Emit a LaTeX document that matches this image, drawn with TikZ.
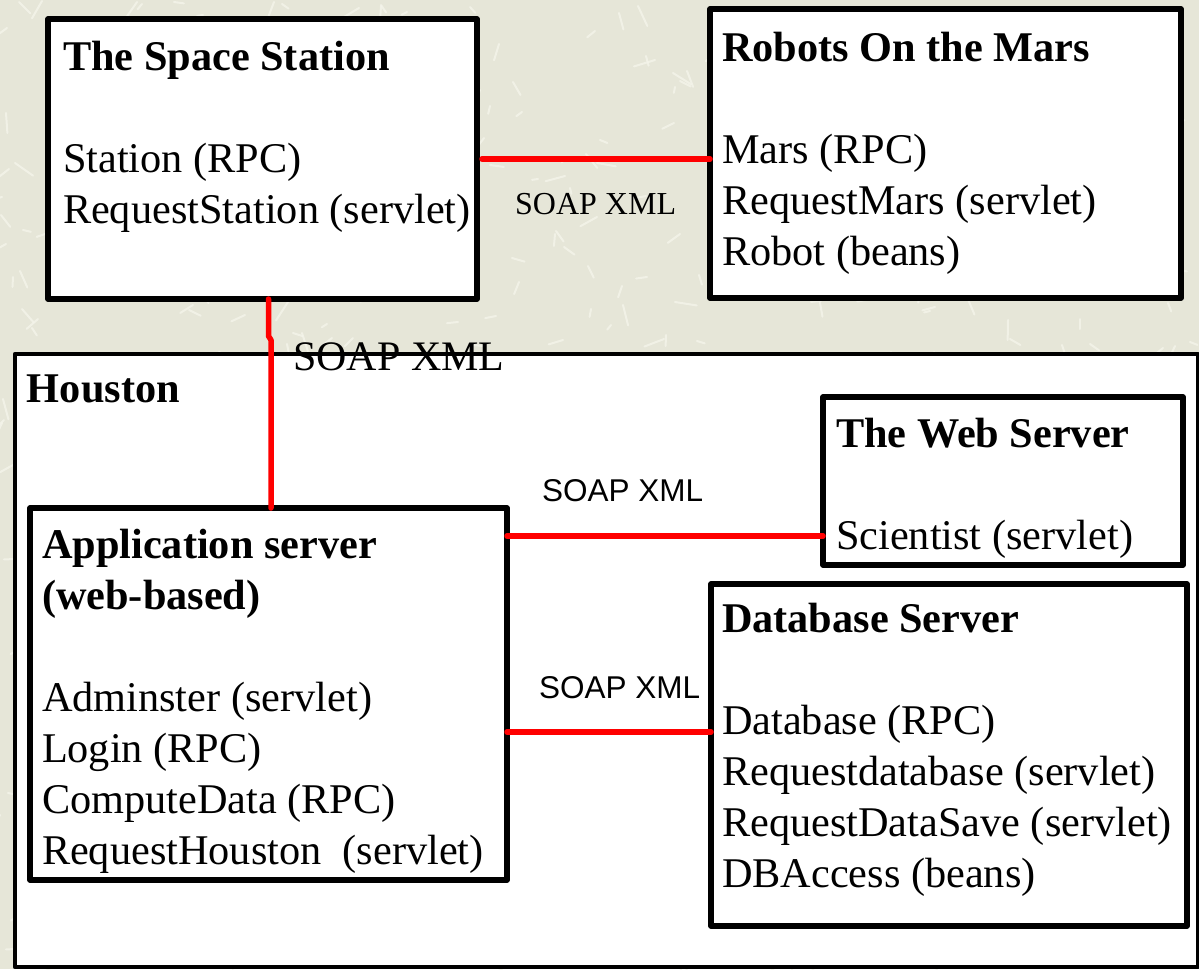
\documentclass[tikz,border=0pt]{standalone}
\usepackage{fontspec}
\setmainfont{Liberation Serif}
\newfontfamily\labelsans{Liberation Sans}
\definecolor{paper}{RGB}{230,230,216}
\definecolor{paperlight}{RGB}{244,244,234}
\definecolor{linkred}{RGB}{255,0,0}
% left-aligned block of lines whose baseline is that of the first line
\newcommand\txtlines[1]{\vtop{\halign{##\hfil\cr#1\crcr}}}

\begin{document}
\begin{tikzpicture}[x=1pt,y=-1pt,
  box/.style={draw=black, line width=5.5pt, fill=white, line join=round,
    rectangle, inner sep=0pt, outer sep=0pt, anchor=north west},
  txt/.style={anchor=base west, inner sep=0pt, outer sep=0pt,
    font=\fontsize{42.3}{51}\selectfont},
  soap/.style={draw=linkred, line width=5.5pt, line cap=round, line join=round},
  tag/.style={anchor=base west, inner sep=0pt},
  streak/.style={draw=paperlight, line width=2pt, line cap=round, opacity=0.8},
]
\clip (0,0) rectangle (1199,969);
\fill[paper] (0,0) rectangle (1199,969);
% paper texture: short light streaks
\pgfmathsetseed{4711}
\foreach \i in {1,...,900}{
  \pgfmathsetmacro\sx{random(0,1199)}
  \pgfmathsetmacro\sy{random(0,969)}
  \pgfmathsetmacro\sa{random(0,179)}
  \pgfmathsetmacro\sl{random(6,22)}
  \draw[streak] (\sx,\sy) -- ++(\sa:\sl);
}

% systems
\node[box, minimum width=429pt, minimum height=280pt] (ss) at (48,19) {};
\node[box, minimum width=471pt, minimum height=289pt] (rm) at (710,9) {};
\node[box, line width=4.5pt, minimum width=1183pt, minimum height=613pt] (hou) at (15,354) {};
\node[box, minimum width=360pt, minimum height=168pt] (web) at (823,397) {};
\node[box, minimum width=477pt, minimum height=372pt] (app) at (30,508) {};
\node[box, minimum width=476pt, minimum height=342pt] (db) at (711,584) {};

% contents
\node[txt] (ss-text) at (63,70) {\txtlines{\textbf{The Space Station}\cr\cr
  Station (RPC)\cr RequestStation (servlet)}};
\node[txt] (rm-text) at (722,61) {\txtlines{\textbf{Robots On the Mars}\cr\cr
  Mars (RPC)\cr RequestMars (servlet)\cr Robot (beans)}};
\node[txt] (hou-text) at (27,402) {\textbf{Houston}};
\node[txt] (web-text) at (836,447) {\txtlines{\textbf{The Web Server}\cr\cr
  Scientist (servlet)}};
\node[txt] (app-text) at (42,558) {\txtlines{\textbf{Application server}\cr
  \textbf{(web-based)}\cr\cr
  Adminster (servlet)\cr Login (RPC)\cr ComputeData (RPC)\cr
  RequestHouston\ \ (servlet)}};
\node[txt] (db-text) at (722,632) {\txtlines{\textbf{Database Server}\cr\cr
  Database (RPC)\cr Requestdatabase (servlet)\cr
  RequestDataSave (servlet)\cr DBAccess (beans)}};

% links
\draw[soap] ([xshift=5pt]ss.east) -- (ss.east -| rm.west);
\draw[soap] (ss.south -| app.north) -- ++(0,37) -- ++(2.5,4)
  -- ([xshift=2.5pt]app.north);
\draw[soap] ([yshift=-28pt]app.north east) -- ([yshift=-28pt]app.north east -| web.west);
\draw[soap] ([yshift=-224pt]app.north east) -- ([yshift=-224pt]app.north east -| db.west);

% link labels
\node[tag, font=\fontsize{32}{38}\selectfont] (l-top) at (515,214) {SOAP XML};
\node[tag, font=\fontsize{42}{50}\selectfont] (l-down) at (293,370) {SOAP XML};
\node[tag, font=\labelsans\fontsize{31.5}{38}\selectfont] (l-web) at (542,501) {SOAP XML};
\node[tag, font=\labelsans\fontsize{31.5}{38}\selectfont] (l-db) at (539,698) {SOAP XML};
\end{tikzpicture}
\end{document}
